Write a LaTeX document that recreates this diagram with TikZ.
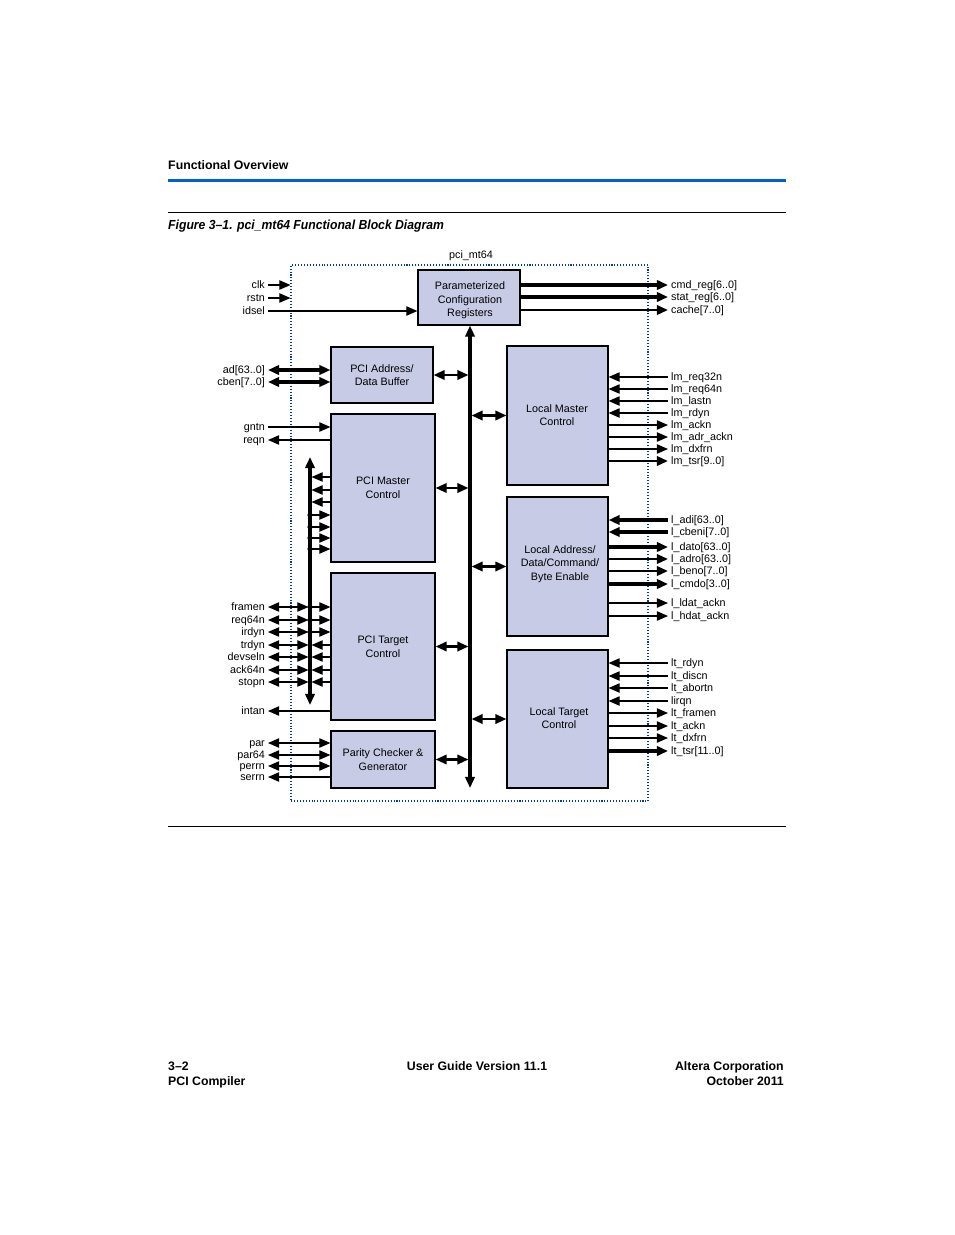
\documentclass[tikz,border=0pt]{standalone}
\usepackage{fontspec}
\setmainfont{Liberation Sans}
\newfontfamily\capfont[FakeStretch=0.93]{Liberation Sans}
\usetikzlibrary{arrows.meta,positioning,fit}

\definecolor{blkfill}{RGB}{199,203,230}
\definecolor{hdrblue}{RGB}{0,96,204}
\definecolor{boxblue}{RGB}{0,60,160}

\newcommand\lblsize{\fontsize{9.2}{11.5}\selectfont}
\newcommand\hdrsize{\fontsize{10.5}{12.5}\selectfont\bfseries}
\newcommand\capsize{\capfont\fontsize{11.2}{13}\selectfont\bfseries\itshape}

\tikzset{
  >={Triangle[length=9.5pt,width=8pt]},
  blk/.style={draw, line width=1pt, fill=blkfill, inner sep=0pt},
  blktxt/.style={align=center, font=\lblsize, inner sep=0pt},
  lblL/.style={anchor=east, font=\lblsize, inner xsep=2.5pt, inner ysep=0pt, text height=6.6pt, text depth=0pt},
  lblR/.style={anchor=west, font=\lblsize, inner xsep=2.5pt, inner ysep=0pt, text height=6.6pt, text depth=0pt},
  sig/.style={line width=1pt},
  mid/.style={line width=2.1pt},
  wide/.style={line width=3pt},
  hdr/.style={font=\hdrsize, inner sep=0pt},
}

\begin{document}
\begin{tikzpicture}[x=0.03cm,y=-0.03cm]
  \fill[white] (0,0) rectangle (954,1235);
  \useasboundingbox (0,0) rectangle (954,1235);

  % page header
  \node[hdr, anchor=base west] (sect) at (168,169.5) {Functional Overview};
  \draw[hdrblue, line width=2.6pt] (168,180.5) -- (786,180.5);
  \draw[line width=0.8pt] (168,212) -- (786,212);
  \node[anchor=base west, inner sep=0pt, font=\capsize] (fig) at (168,229) {Figure 3–1. pci\_mt64 Functional Block Diagram};

  % core outline
  \node[draw=boxblue, line width=0.9pt, dash pattern=on 0.9pt off 1.6pt, fit={(291,265) (648,801)}, inner sep=0pt] (core) {};
  \node[font=\lblsize, inner sep=0pt] (coretitle) at (471,256) {pci\_mt64};

  % blocks
  \node[blk, fit={(418,270) (520,325)}] (cfg) {};
  \node[blk, fit={(331,347) (433,403)}] (pab) {};
  \node[blk, fit={(331,414) (435,562)}] (pmc) {};
  \node[blk, fit={(331,573) (435,720)}] (ptc) {};
  \node[blk, fit={(331,731) (435,788)}] (pcg) {};
  \node[blk, fit={(507,346) (608,485)}] (lmc) {};
  \node[blk, fit={(507,497) (608,636)}] (lad) {};
  \node[blk, fit={(507,650) (608,788)}] (ltc) {};
  \node[blktxt] (cfgtxt) at (470,300.5) {Parameterized\\Configuration\\Registers};
  \node[blktxt] (pabtxt) at (pab) {PCI Address/\\Data Buffer};
  \node[blktxt] (pmctxt) at (383,488) {PCI Master\\Control};
  \node[blktxt] (ptctxt) at (383,647) {PCI Target\\Control};
  \node[blktxt] (pcgtxt) at (pcg) {Parity Checker \&\\Generator};
  \node[blktxt] (lmctxt) at (557,415) {Local Master\\Control};
  \node[blktxt] (ladtxt) at (560,564) {Local Address/\\Data/Command/\\Byte Enable};
  \node[blktxt] (ltctxt) at (559,718) {Local Target\\Control};

  % internal bus
  \coordinate (cbot) at (470,788);
  \draw[<->,wide] (cfg.south -| cbot) -- (cbot);
  \draw[<->,mid,shorten >=1.3pt] (pab.east) -- (pab.east -| cbot);
  \draw[<->,mid,shorten >=1.3pt] (pmc.east) -- (pmc.east -| cbot);
  \draw[<->,mid,shorten >=1.3pt] (ptc.east) -- (ptc.east -| cbot);
  \draw[<->,mid,shorten >=1.3pt] (pcg.east) -- (pcg.east -| cbot);
  \draw[<->,mid,shorten <=1.3pt] (lmc.west -| cbot) -- (lmc.west);
  \draw[<->,mid,shorten <=1.3pt] (lad.west -| cbot) -- (lad.west);
  \draw[<->,mid,shorten <=1.3pt] (ltc.west -| cbot) -- (ltc.west);

  % configuration inputs
  \node[lblL] (clk) at (268,285) {clk};
  \node[lblL] (rstn) at (268,298) {rstn};
  \node[lblL] (idsel) at (268,311) {idsel};
  \draw[->,sig] (clk) -- (clk -| core.west);
  \draw[->,sig] (rstn) -- (rstn -| core.west);
  \draw[->,sig] (idsel) -- (idsel -| cfg.west);

  % PCI address/data
  \node[lblL] (ad) at (268,370) {ad[63..0]};
  \node[lblL] (cben) at (268,382) {cben[7..0]};
  \draw[<->,wide] (ad) -- (ad -| pab.west);
  \draw[<->,wide] (cben) -- (cben -| pab.west);

  % PCI master signals
  \node[lblL] (gntn) at (268,427) {gntn};
  \node[lblL] (reqn) at (268,440) {reqn};
  \draw[->,sig] (gntn) -- (gntn -| pmc.west);
  \draw[<-,sig] (reqn) -- (reqn -| pmc.west);

  \coordinate (mtop) at (310,457);
  \coordinate (mbot) at (310,705);
  \draw[<->,wide] (mtop) -- (mbot);
  \foreach \y in {477,490,502} {
    \coordinate (r) at (0,\y);
    \draw[->,sig,shorten >=1.3pt] (r -| pmc.west) -- (r -| mtop);
  }
  \foreach \y in {515,527,538,549} {
    \coordinate (r) at (0,\y);
    \draw[->,sig] (r -| mtop) -- (r -| pmc.west);
    \fill (r -| mtop) circle[radius=2.2pt];
  }

  % PCI target signals
  \foreach \y/\n in {607/framen, 620/req64n, 632/irdyn} {
    \node[lblL] (\n) at (268,\y) {\n};
    \draw[<->,sig,shorten >=1.3pt] (\n) -- (\n -| mtop);
    \draw[->,sig] (\n -| mtop) -- (\n -| ptc.west);
    \fill (\n -| mtop) circle[radius=2.2pt];
  }
  \foreach \y/\n in {645/trdyn, 657/devseln, 670/ack64n, 682/stopn} {
    \node[lblL] (\n) at (268,\y) {\n};
    \draw[<->,sig,shorten >=1.3pt] (\n) -- (\n -| mtop);
    \draw[->,sig,shorten >=1.3pt] (\n -| ptc.west) -- (\n -| mtop);
  }
  \node[lblL] (intan) at (268,711) {intan};
  \draw[<-,sig] (intan) -- (intan -| ptc.west);

  % parity
  \foreach \y/\n in {743/par, 755/par64, 766/perrn} {
    \node[lblL] (\n) at (268,\y) {\n};
    \draw[<->,sig] (\n) -- (\n -| pcg.west);
  }
  \node[lblL] (serrn) at (268,777) {serrn};
  \draw[<-,sig] (serrn) -- (serrn -| pcg.west);

  % configuration outputs
  \node[lblR] (cmdreg) at (668,285) {cmd\_reg[6..0]};
  \node[lblR] (statreg) at (668,297) {stat\_reg[6..0]};
  \node[lblR] (cache) at (668,310) {cache[7..0]};
  \draw[->,wide] (cmdreg -| cfg.east) -- (cmdreg);
  \draw[->,wide] (statreg -| cfg.east) -- (statreg);
  \draw[->,mid] (cache -| cfg.east) -- (cache);

  % local master
  \foreach \y/\n/\t in {377/lmreqa/lm\_req32n, 389/lmreqb/lm\_req64n, 401/lmlastn/lm\_lastn, 413/lmrdyn/lm\_rdyn} {
    \node[lblR] (\n) at (668,\y) {\t};
    \draw[<-,sig] (\n -| lmc.east) -- (\n);
  }
  \foreach \y/\n/\t in {425/lmackn/lm\_ackn, 437/lmadrackn/lm\_adr\_ackn, 449/lmdxfrn/lm\_dxfrn} {
    \node[lblR] (\n) at (668,\y) {\t};
    \draw[->,sig] (\n -| lmc.east) -- (\n);
  }
  \node[lblR] (lmtsr) at (668,461) {lm\_tsr[9..0]};
  \draw[->,mid] (lmtsr -| lmc.east) -- (lmtsr);

  % local address/data
  \node[lblR] (ladi) at (668,520) {l\_adi[63..0]};
  \node[lblR] (lcbeni) at (668,532) {l\_cbeni[7..0]};
  \draw[<-,wide] (ladi -| lad.east) -- (ladi);
  \draw[<-,wide] (lcbeni -| lad.east) -- (lcbeni);
  \node[lblR] (ldato) at (668,547) {l\_dato[63..0]};
  \node[lblR] (ladro) at (668,559) {l\_adro[63..0]};
  \node[lblR] (lbeno) at (668,571) {l\_beno[7..0]};
  \node[lblR] (lcmdo) at (668,584) {l\_cmdo[3..0]};
  \draw[->,wide] (ldato -| lad.east) -- (ldato);
  \draw[->,mid] (ladro -| lad.east) -- (ladro);
  \draw[->,mid] (lbeno -| lad.east) -- (lbeno);
  \draw[->,wide] (lcmdo -| lad.east) -- (lcmdo);
  \node[lblR] (lldat) at (668,603) {l\_ldat\_ackn};
  \node[lblR] (lhdat) at (668,616) {l\_hdat\_ackn};
  \draw[->,sig] (lldat -| lad.east) -- (lldat);
  \draw[->,sig] (lhdat -| lad.east) -- (lhdat);

  % local target
  \foreach \y/\n/\t in {663/ltrdyn/lt\_rdyn, 676/ltdiscn/lt\_discn, 688/ltabortn/lt\_abortn, 701/lirqn/lirqn} {
    \node[lblR] (\n) at (668,\y) {\t};
    \draw[<-,sig] (\n -| ltc.east) -- (\n);
  }
  \foreach \y/\n/\t in {713/ltframen/lt\_framen, 726/ltackn/lt\_ackn, 738/ltdxfrn/lt\_dxfrn} {
    \node[lblR] (\n) at (668,\y) {\t};
    \draw[->,sig] (\n -| ltc.east) -- (\n);
  }
  \node[lblR] (lttsr) at (668,751) {lt\_tsr[11..0]};
  \draw[->,wide] (lttsr -| ltc.east) -- (lttsr);

  % page footer
  \draw[line width=0.8pt] (168,826) -- (786,826);
  \node[hdr, anchor=base west] (pgno) at (168,1070.5) {3–2};
  \node[hdr, anchor=base west] (book) at (168,1085.5) {PCI Compiler};
  \node[hdr, anchor=base] (ver) at (477,1070.5) {User Guide Version 11.1};
  \node[hdr, anchor=base east] (corp) at (784,1070.5) {Altera Corporation};
  \node[hdr, anchor=base east] (date) at (784,1085.5) {October 2011};
\end{tikzpicture}
\end{document}
